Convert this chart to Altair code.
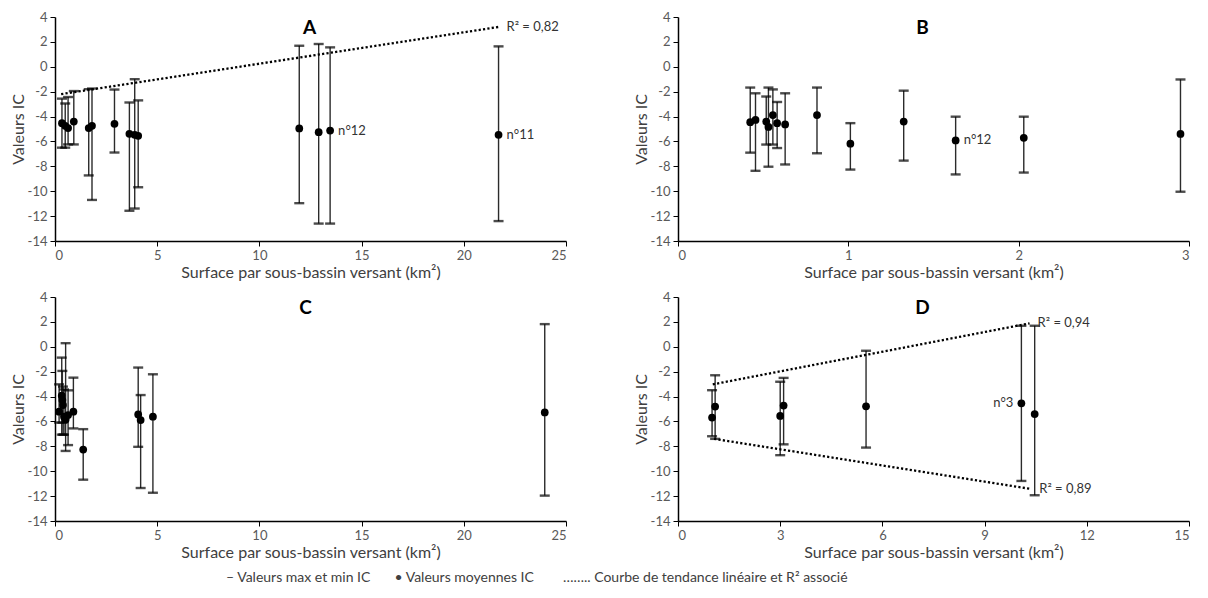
import altair as alt
import pandas as pd

# ---------------- Panel A ----------------
xA = [0.34, 0.5, 0.64, 0.92, 1.65, 1.81, 2.91, 3.64, 3.9, 4.07, 11.95, 12.9, 13.46, 21.7]
meanA = [-4.53, -4.74, -4.92, -4.4, -4.92, -4.74, -4.58, -5.39, -5.47, -5.55, -4.95, -5.26, -5.13, -5.47]
maxA = [-2.56, -2.95, -2.43, -1.95, -1.8, -1.75, -1.83, -2.87, -1.0, -2.7, 1.69, 1.83, 1.56, 1.64]
minA = [-6.5, -6.5, -6.24, -6.24, -8.73, -10.7, -6.89, -11.57, -11.39, -9.68, -10.96, -12.6, -12.6, -12.4]
trendA_x = [0.3, 21.7]
trendA_y = [-2.2, 3.2]

# ---------------- Panel B ----------------
xB = [0.424, 0.455, 0.518, 0.531, 0.557, 0.582, 0.629, 0.816, 1.012, 1.325, 1.63, 2.03, 2.95]
meanB = [-4.45, -4.27, -4.4, -4.83, -3.88, -4.53, -4.63, -3.88, -6.18, -4.4, -5.92, -5.71, -5.4]
maxB = [-1.67, -2.13, -2.39, -1.67, -1.82, -2.83, -2.13, -1.67, -4.53, -1.92, -4.01, -4.01, -1.02]
minB = [-6.9, -8.36, -6.25, -8.03, -6.25, -6.53, -7.85, -6.95, -8.26, -7.54, -8.65, -8.5, -10.04]

# ---------------- Panel C ----------------
xC = [0.2, 0.33, 0.36, 0.39, 0.44, 0.52, 0.64, 0.9, 1.38, 4.07, 4.19, 4.79, 23.96]
meanC = [-5.22, -3.93, -4.28, -4.68, -5.62, -5.84, -5.49, -5.22, -8.26, -5.44, -5.89, -5.62, -5.28]
maxC = [-3.02, -0.87, -1.94, -3.2, -3.43, 0.29, -3.5, -2.48, -6.62, -1.67, -3.88, -2.21, 1.82]
minC = [-6.09, -7.06, -6.1, -7.06, -7.06, -8.37, -7.9, -6.56, -10.68, -8.04, -11.35, -11.73, -11.96]

# ---------------- Panel D ----------------
xD = [1.0, 1.09, 3.0, 3.1, 5.52, 10.08, 10.47]
meanD = [-5.69, -4.8, -5.56, -4.72, -4.78, -4.54, -5.41]
maxD = [-3.49, -2.29, -2.81, -2.5, -0.32, 1.69, 1.69]
minD = [-7.19, -7.4, -8.71, -7.84, -8.1, -10.78, -11.93]
trendD_up_x = [1.02, 10.32]
trendD_up_y = [-3.02, 1.88]
trendD_low_x = [1.06, 10.37]
trendD_low_y = [-7.4, -11.43]

legend_items = ["– Valeurs max et min IC", "• Valeurs moyennes IC",
                "…….. Courbe de tendance linéaire et R² associé"]

FONT = "Lato"
W, H = 511, 224
XTITLE = "Surface par sous-bassin versant (km²)"
YTITLE = "Valeurs IC"
LBL = "'' + datum.value"


def panel(x, mean, mx, mn, xmax, xstep, title, title_dx,
          trends=(), labels_right=(), labels_left=()):
    df = pd.DataFrame({"x": x, "mean": mean, "max": mx, "min": mn})
    xs = alt.Scale(domain=[0, xmax], nice=False, zero=True)
    ys = alt.Scale(domain=[-14, 4], nice=False)
    xax = alt.Axis(values=list(range(0, xmax + 1, xstep)), title=XTITLE, labelExpr=LBL)
    yax = alt.Axis(values=list(range(-14, 5, 2)), title=YTITLE, labelExpr=LBL)
    X = alt.X("x:Q", scale=xs, axis=xax)

    base = alt.Chart(df)
    rules = base.mark_rule(color="#2b2b2b", strokeWidth=1.4).encode(
        x=X, y=alt.Y("min:Q", scale=ys, axis=yax), y2="max:Q")
    cap_hi = base.mark_tick(orient="horizontal", size=10, thickness=2.4, color="black").encode(
        x=X, y=alt.Y("max:Q", scale=ys, axis=yax))
    cap_lo = base.mark_tick(orient="horizontal", size=10, thickness=2.4, color="black").encode(
        x=X, y=alt.Y("min:Q", scale=ys, axis=yax))
    pts = base.mark_circle(size=60, color="black", opacity=1).encode(
        x=X, y=alt.Y("mean:Q", scale=ys, axis=yax))
    layers = [rules, cap_hi, cap_lo, pts]

    for (tx, ty, r2) in trends:
        tdf = pd.DataFrame({"x": tx, "y": ty})
        layers.append(alt.Chart(tdf).mark_line(color="black", strokeWidth=2.3,
                                               strokeDash=[2.2, 2.2]).encode(
            x=X, y=alt.Y("y:Q", scale=ys, axis=yax)))
        ldf = pd.DataFrame({"x": [tx[-1]], "y": [ty[-1]], "t": [r2]})
        layers.append(alt.Chart(ldf).mark_text(align="left", dx=8, fontSize=13,
                                               font=FONT, color="#333333").encode(
            x=X, y=alt.Y("y:Q", scale=ys, axis=yax), text="t:N"))

    if labels_right:
        ldf = pd.DataFrame({"x": [l[0] for l in labels_right],
                            "y": [l[1] for l in labels_right],
                            "t": [l[2] for l in labels_right]})
        layers.append(alt.Chart(ldf).mark_text(align="left", dx=8, fontSize=13,
                                               font=FONT, color="#333333").encode(
            x=X, y=alt.Y("y:Q", scale=ys, axis=yax), text="t:N"))
    if labels_left:
        ldf = pd.DataFrame({"x": [l[0] for l in labels_left],
                            "y": [l[1] for l in labels_left],
                            "t": [l[2] for l in labels_left]})
        layers.append(alt.Chart(ldf).mark_text(align="right", dx=-8, fontSize=13,
                                               font=FONT, color="#333333").encode(
            x=X, y=alt.Y("y:Q", scale=ys, axis=yax), text="t:N"))

    tdf = pd.DataFrame({"t": [title]})
    layers.append(alt.Chart(tdf).mark_text(fontSize=19, fontWeight="bold", font=FONT,
                                           color="black", baseline="middle").encode(
        x=alt.value(W / 2 + title_dx), y=alt.value(11), text="t:N"))

    return alt.layer(*layers).properties(width=W, height=H)


pA = panel(xA, meanA, maxA, minA, 25, 5, "A", -1,
           trends=[(trendA_x, trendA_y, "R² = 0,82")],
           labels_right=[(xA[12], meanA[12], "n°12"), (xA[13], meanA[13], "n°11")])
pB = panel(xB, meanB, maxB, minB, 3, 1, "B", -11,
           labels_right=[(xB[10], meanB[10], "n°12")])
pC = panel(xC, meanC, maxC, minC, 25, 5, "C", -5)
pD = panel(xD, meanD, maxD, minD, 15, 3, "D", -11,
           trends=[(trendD_up_x, trendD_up_y, "R² = 0,94"),
                   (trendD_low_x, trendD_low_y, "R² = 0,89")],
           labels_left=[(xD[5], meanD[5], "n°3")])

leg_df = pd.DataFrame({"item": legend_items})
legend = alt.Chart(leg_df).mark_text(align="left", baseline="middle", fontSize=14,
                                     font=FONT, color="#404040").encode(
    x=alt.X("item:N", scale=alt.Scale(domain=legend_items, range=[171, 508], padding=0),
            axis=None),
    y=alt.value(9),
    text="item:N",
).properties(width=1000, height=18)

grid = alt.vconcat(alt.hconcat(pA, pB, spacing=66),
                   alt.hconcat(pC, pD, spacing=66), spacing=11)

chart = alt.vconcat(grid, legend, spacing=9).properties(
    padding={"left": 2, "top": 3, "right": 0, "bottom": 0}
).configure_view(stroke=None).configure_axis(
    grid=False, domainColor="black", domainWidth=1.5, tickColor="black", tickSize=5,
    labelColor="#595959", labelFontSize=13, labelFont=FONT,
    titleFont=FONT, titleFontSize=16, titleFontWeight="normal", titleColor="#404040",
).configure_axisX(labelPadding=3, titlePadding=2).configure_axisY(
    labelPadding=3, titlePadding=1)

chart.save("out.html", embed_options={"renderer": "svg", "actions": False})
